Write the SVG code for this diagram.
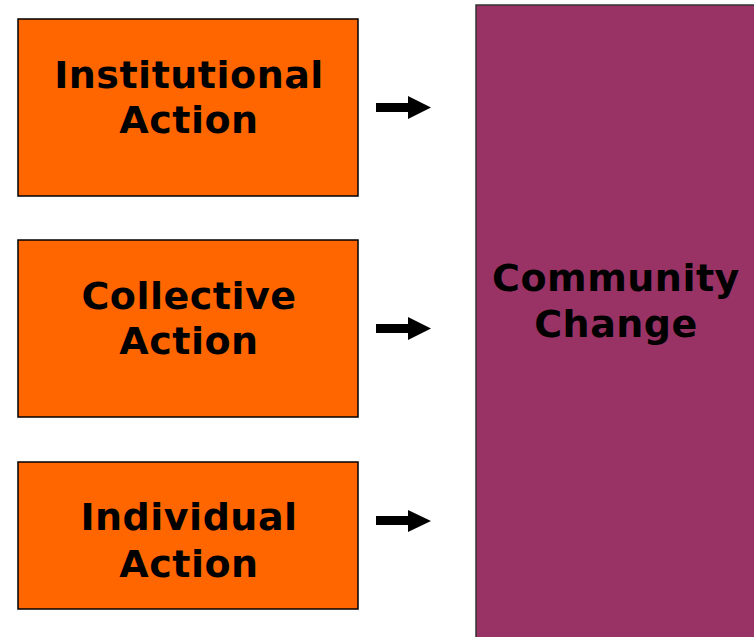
<svg xmlns="http://www.w3.org/2000/svg" width="754" height="637" viewBox="0 0 754 637">
<style>
.box{fill:#ff6600;stroke:#000;stroke-width:1.5}
.big{fill:#993366;stroke:#333;stroke-width:1.5}
.t{font-family:"DejaVu Sans",Verdana,sans-serif;font-weight:bold;font-size:38px;letter-spacing:0.5px;fill:#000;text-anchor:middle}
.arr{fill:#000}
</style>
<rect width="754" height="637" fill="#fff"/>
<g id="community">
<rect class="big" x="476" y="5" width="290" height="640"/>
<text class="t" x="616" y="291">Community</text>
<text class="t" x="616" y="337">Change</text>
</g>
<g id="institutional">
<rect class="box" x="18" y="19" width="340" height="177"/>
<text class="t" x="189" y="88">Institutional</text>
<text class="t" x="189" y="133">Action</text>
</g>
<g id="collective">
<rect class="box" x="18" y="240" width="340" height="177"/>
<text class="t" x="189" y="309">Collective</text>
<text class="t" x="189" y="354">Action</text>
</g>
<g id="individual">
<rect class="box" x="18" y="462" width="340" height="147"/>
<text class="t" x="189" y="530">Individual</text>
<text class="t" x="189" y="577">Action</text>
</g>
<g id="connectors">
<polygon class="arr" points="376,103 408,103 408,96 431,107.5 408,119 408,112 376,112"/>
<polygon class="arr" points="376,324 408,324 408,317 431,328.5 408,340 408,333 376,333"/>
<polygon class="arr" points="376,516 408,516 408,510 431,521 408,532 408,525 376,525"/>
</g>
</svg>
